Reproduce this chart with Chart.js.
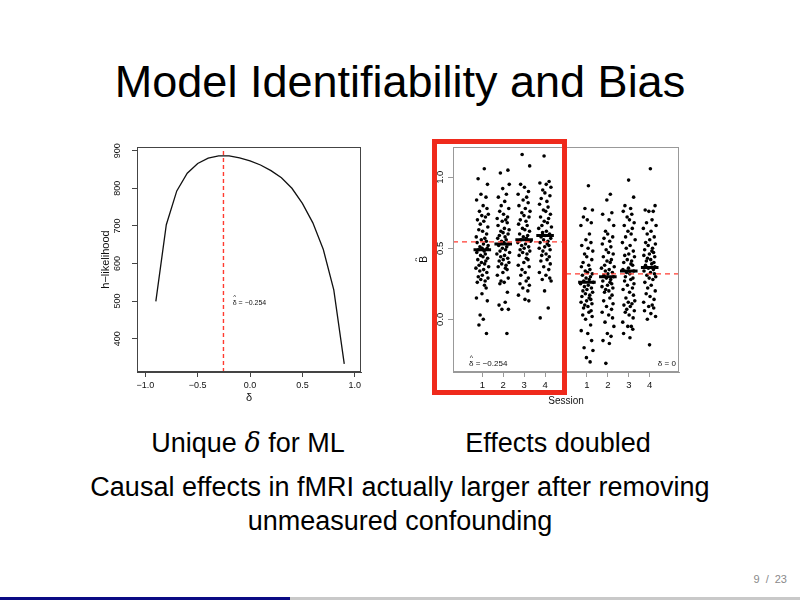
<!DOCTYPE html>
<html lang="en">
<head>
<meta charset="UTF-8">
<title>Model Identifiability and Bias</title>
<script src="https://cdn.jsdelivr.net/npm/chart.js@4.4.1/dist/chart.umd.min.js"></script>
<style>
  body { margin: 0; background: #fff; font-family: "Liberation Sans", Arial, sans-serif; }
  #slide { position: relative; width: 800px; height: 600px; overflow: hidden; background: #fff; }
  .txt { position: absolute; color: #000; white-space: nowrap; }
  #title { left: 0; width: 800px; top: 58px; font-size: 45px; line-height: 48px; text-align: center; }
  .cap { font-size: 27px; line-height: 30px; text-align: center; width: 260px; top: 428px; }
  .cap i { font-family: "DejaVu Serif", "Liberation Serif", serif; font-size: 27px; }
  #concl { left: 0; width: 800px; top: 470px; font-size: 27px; line-height: 34px; text-align: center; }
  #pageno { right: 13px; top: 573px; font-size: 11px; color: #8a8a8a; word-spacing: 3px; }
  #barNavy { position: absolute; left: 0; top: 597px; width: 290px; height: 3px; background: #0b0b84; }
  #barGrey { position: absolute; left: 290px; top: 597px; width: 510px; height: 3px; background: #c9c9c9; }
  canvas { position: absolute; }
  #hlikChart { left: 100px; top: 143px; }
  #sessChart { left: 415px; top: 143px; }
  #redFrame { position: absolute; left: 432px; top: 139px; width: 135px; height: 256px;
              box-sizing: border-box; border: 5px solid #ef2a1c; }
</style>
</head>
<body>
<div id="slide">
  <div id="title" class="txt">Model Identifiability and Bias</div>

  <canvas id="hlikChart" width="265" height="267"></canvas>
  <canvas id="sessChart" width="268" height="270"></canvas>
  <div id="redFrame"></div>

  <div class="txt cap" style="left:118px">Unique <i>δ</i> for ML</div>
  <div class="txt cap" style="left:428px">Effects doubled</div>
  <div id="concl" class="txt">Causal effects in fMRI actually larger after removing<br>unmeasured confounding</div>

  <div id="pageno" class="txt">9 / 23</div>
  <div id="barNavy"></div><div id="barGrey"></div>
</div>

<script>
// ---- left panel: h-likelihood profile over delta ----
const deltaGrid = [-0.9, -0.8, -0.7, -0.6, -0.5, -0.4, -0.3, -0.2, -0.1, 0.0,
                   0.1, 0.2, 0.3, 0.4, 0.5, 0.6, 0.7, 0.8, 0.9];
const hLikelihood = [499, 703, 793, 840, 866, 880, 886, 886, 881, 873,
                     862, 847, 828, 800, 760, 708, 637, 530, 333];
const deltaHat = -0.254;
const hlikXTicks = [-1, -0.5, 0, 0.5, 1];
const hlikYTicks = [400, 500, 600, 700, 800, 900];

// ---- right panel: per-subject B-hat by session, delta-hat vs delta = 0 ----
const sessions = [1, 2, 3, 4];
const bHatDeltaHat = [
  [1.06,0.99,0.95,0.88,0.86,0.84,0.80,0.78,0.76,0.74,0.73,0.72,0.70,0.69,0.67,0.65,0.63,0.62,0.60,0.58,
   0.57,0.56,0.55,0.54,0.53,0.52,0.51,0.50,0.50,0.49,0.48,0.47,0.46,0.45,0.44,0.43,0.42,0.41,0.40,0.39,
   0.38,0.37,0.36,0.35,0.34,0.33,0.31,0.30,0.29,0.28,0.27,0.26,0.24,0.22,0.18,0.15,0.13,0.03,0.00,-0.04,-0.10],
  [1.05,1.03,0.95,0.92,0.88,0.86,0.83,0.80,0.78,0.76,0.74,0.72,0.71,0.70,0.69,0.68,0.66,0.64,0.63,0.62,
   0.61,0.60,0.59,0.58,0.57,0.56,0.55,0.54,0.53,0.52,0.51,0.50,0.49,0.48,0.47,0.46,0.45,0.44,0.43,0.42,
   0.41,0.40,0.39,0.38,0.37,0.36,0.35,0.33,0.31,0.29,0.27,0.26,0.25,0.19,0.12,0.10,0.07,0.07,-0.10],
  [1.16,1.08,0.95,0.93,0.90,0.88,0.86,0.84,0.82,0.80,0.78,0.76,0.75,0.73,0.72,0.70,0.69,0.67,0.66,0.64,
   0.63,0.62,0.60,0.59,0.58,0.57,0.56,0.55,0.54,0.53,0.52,0.51,0.50,0.49,0.48,0.47,0.46,0.45,0.43,0.42,
   0.40,0.38,0.37,0.35,0.33,0.31,0.29,0.27,0.25,0.24,0.22,0.20,0.17,0.14,0.13],
  [1.15,0.97,0.96,0.95,0.93,0.91,0.89,0.87,0.85,0.83,0.81,0.79,0.77,0.76,0.74,0.72,0.71,0.69,0.68,0.66,
   0.65,0.64,0.62,0.61,0.60,0.59,0.58,0.57,0.56,0.55,0.54,0.53,0.52,0.51,0.50,0.49,0.48,0.46,0.45,0.44,
   0.42,0.41,0.39,0.37,0.35,0.33,0.31,0.29,0.28,0.27,0.20,0.08,0.01]
];
const bHatDeltaZero = [
  [0.94,0.78,0.77,0.72,0.70,0.68,0.66,0.60,0.56,0.54,0.52,0.50,0.48,0.46,0.44,0.42,0.40,0.38,0.37,0.35,
   0.34,0.33,0.32,0.31,0.30,0.29,0.28,0.27,0.26,0.25,0.24,0.23,0.22,0.21,0.20,0.19,0.18,0.17,0.16,0.15,
   0.14,0.13,0.12,0.11,0.10,0.09,0.08,0.06,0.05,0.03,0.02,0.00,-0.04,-0.08,-0.10,-0.15,-0.20,-0.22,-0.27,-0.30],
  [0.88,0.84,0.75,0.74,0.70,0.66,0.62,0.60,0.58,0.57,0.55,0.53,0.51,0.49,0.47,0.46,0.44,0.42,0.41,0.40,
   0.38,0.37,0.36,0.35,0.34,0.33,0.32,0.31,0.30,0.29,0.28,0.27,0.26,0.25,0.24,0.23,0.22,0.21,0.20,0.19,
   0.17,0.15,0.13,0.11,0.09,0.07,0.05,0.03,0.01,-0.02,-0.05,-0.10,-0.12,-0.15,-0.17,-0.31],
  [0.98,0.86,0.80,0.78,0.76,0.74,0.72,0.70,0.68,0.66,0.64,0.62,0.60,0.58,0.56,0.54,0.52,0.50,0.48,0.46,
   0.45,0.44,0.42,0.41,0.40,0.39,0.38,0.36,0.35,0.34,0.33,0.32,0.30,0.29,0.28,0.27,0.25,0.24,0.22,0.21,
   0.19,0.17,0.15,0.13,0.12,0.11,0.10,0.09,0.07,0.06,0.05,0.03,0.01,-0.02,-0.05,-0.05,-0.07,-0.10,-0.13],
  [1.06,0.80,0.77,0.76,0.76,0.70,0.68,0.66,0.64,0.62,0.60,0.58,0.56,0.54,0.53,0.52,0.50,0.49,0.48,0.47,
   0.46,0.45,0.44,0.43,0.42,0.41,0.40,0.39,0.38,0.37,0.36,0.35,0.34,0.33,0.32,0.31,0.30,0.29,0.28,0.26,
   0.24,0.22,0.20,0.18,0.16,0.14,0.12,0.10,0.09,0.08,0.06,0.04,0.02,0.00,-0.18]
];
const meanDeltaHat = [0.49, 0.53, 0.56, 0.59];
const meanDeltaZero = [0.26, 0.30, 0.34, 0.365];
const pooledDeltaHat = 0.545;
const pooledDeltaZero = 0.32;
const sessYTicks = [0, 0.5, 1.0];

// horizontal jitter (in session units) like R's jitter() in the stripchart
const jitter = [0.12,-0.25,0.31,-0.08,0.22,-0.34,0.05,0.28,-0.17,0.36,
                -0.03,0.19,-0.29,0.09,-0.12,0.33,-0.21,0.02,0.26,-0.36,
                0.15,-0.06,0.24,-0.31,0.07,0.35,-0.14,-0.01,0.29,-0.23,
                0.11,-0.33,0.18,-0.10,0.04,0.32,-0.27,0.21,-0.05,0.14,
                -0.19,0.38,-0.38,0.08,-0.15,0.27,0.00,-0.24,0.34,-0.09,
                0.17,-0.30,0.13,0.23,-0.02,-0.35,0.30,-0.13,0.06,-0.20,0.25];
const JITTER_SCALE = 0.8;

const FONT = '"Liberation Sans", Arial, sans-serif';
const RED = '#ff3b30';

// R-style frame: full box, rotated y tick labels, text annotations
function rFrame(o) {
  return {
    id: 'rFrame_' + o.name,
    afterDraw(chart) {
      const ctx = chart.ctx, a = chart.chartArea, ys = chart.scales.y, xs = chart.scales.x;
      ctx.save();
      ctx.strokeStyle = o.boxColor; ctx.lineWidth = 1;
      ctx.strokeRect(a.left + 0.5, a.top + 0.5, a.right - a.left - 1, a.bottom - a.top - 1);
      ctx.fillStyle = '#111';
      ctx.textAlign = 'center'; ctx.textBaseline = 'middle';
      ctx.font = o.tickSize + 'px ' + FONT;
      ys.ticks.forEach(t => {
        ctx.save();
        ctx.translate(a.left - o.tickLabelGap, ys.getPixelForValue(t.value));
        ctx.rotate(-Math.PI / 2);
        ctx.fillText(o.yFormat(t.value), 0, 0);
        ctx.restore();
      });
      // y title (x is relative to the canvas)
      ctx.save();
      ctx.translate(o.yTitleX, (a.top + a.bottom) / 2);
      ctx.rotate(-Math.PI / 2);
      ctx.font = o.yTitleSize + 'px ' + FONT;
      ctx.fillText(o.yTitle, 0, 0);
      if (o.yTitleHat) {
        ctx.font = (o.yTitleSize - 2) + 'px ' + FONT;
        ctx.fillText('^', 0, -o.yTitleSize * 0.75);
      }
      ctx.restore();
      // annotations
      o.notes.forEach(n => {
        const px = xs.getPixelForValue(n.x), py = ys.getPixelForValue(n.y);
        ctx.font = n.size + 'px ' + FONT;
        ctx.textAlign = n.align; ctx.textBaseline = 'middle';
        ctx.fillText(n.text, px, py);
        if (n.hat) {
          const dw = ctx.measureText('δ').width;
          const x0 = n.align === 'left' ? px : px - ctx.measureText(n.text).width;
          ctx.textAlign = 'center';
          ctx.font = (n.size - 1) + 'px ' + FONT;
          ctx.fillText('^', x0 + dw / 2, py - n.size * 0.75);
        }
      });
      ctx.restore();
    }
  };
}

function axisCommon(color) {
  return {
    grid: { display: true, drawOnChartArea: false, drawTicks: true, tickLength: 5, color: color, lineWidth: 1 },
    border: { display: true, color: color, width: 1 }
  };
}

function minusFmt(v, d) {
  return (v < 0 ? '\u2212' : '') + Math.abs(v).toFixed(d);
}

// ---------------- left chart ----------------
new Chart(document.getElementById('hlikChart'), {
  type: 'scatter',
  data: {
    datasets: [
      {
        data: [{ x: deltaHat, y: 311.4 }, { x: deltaHat, y: 909.8 }],
        showLine: true, borderColor: RED, borderWidth: 1.4, borderDash: [4, 3], pointRadius: 0
      },
      {
        data: deltaGrid.map((d, i) => ({ x: d, y: hLikelihood[i] })),
        showLine: true, borderColor: '#111', borderWidth: 1.3, pointRadius: 0, tension: 0
      }
    ]
  },
  options: {
    responsive: false, animation: false, events: [],
    layout: { padding: { top: 4, right: 4, left: 0, bottom: 0 } },
    plugins: { legend: { display: false }, tooltip: { enabled: false } },
    scales: {
      x: Object.assign(axisCommon('#444'), {
        type: 'linear', min: -1.08, max: 1.06,
        afterBuildTicks: s => { s.ticks = hlikXTicks.map(v => ({ value: v })); },
        afterFit: s => { s.height = 38; },
        ticks: { color: '#111', font: { family: FONT, size: 9 }, padding: 3, maxRotation: 0,
                 callback: v => minusFmt(v, 1) },
        title: { display: true, text: 'δ', color: '#111', font: { family: FONT, size: 11 },
                 padding: { top: 0, bottom: 5 } }
      }),
      y: Object.assign(axisCommon('#444'), {
        type: 'linear', min: 311.4, max: 909.8,
        afterBuildTicks: s => { s.ticks = hlikYTicks.map(v => ({ value: v })); },
        afterFit: s => { s.width = 37; },
        ticks: { display: false }
      })
    }
  },
  plugins: [rFrame({
    name: 'hlik', boxColor: '#444', tickSize: 9, tickLabelGap: 19,
    yFormat: v => String(v), yTitle: 'h\u2212likelihood', yTitleSize: 11, yTitleX: 6,
    yTitleHat: false,
    notes: [{ x: -0.165, y: 495, text: 'δ = \u22120.254', size: 7, align: 'left', hat: true }]
  })]
});

// ---------------- right chart ----------------
function sessionX(panel, s) { return s + 5 * panel; }

const pointSets = [bHatDeltaHat, bHatDeltaZero].map((panelData, p) => {
  const pts = [];
  panelData.forEach((vals, si) => {
    vals.forEach((v, i) => {
      const j = jitter[(i + si * 7 + p * 13) % jitter.length] * JITTER_SCALE;
      pts.push({ x: sessionX(p, sessions[si]) + j, y: v });
    });
  });
  return pts;
});

const meanBars = [];
[meanDeltaHat, meanDeltaZero].forEach((means, p) => {
  means.forEach((m, si) => {
    const cx = sessionX(p, sessions[si]);
    meanBars.push({ x: cx - 0.42, y: m }, { x: cx + 0.42, y: m }, { x: cx + 0.5, y: null });
  });
});

new Chart(document.getElementById('sessChart'), {
  type: 'scatter',
  data: {
    datasets: [
      {
        data: [{ x: -0.4, y: pooledDeltaHat }, { x: 5, y: pooledDeltaHat }],
        showLine: true, borderColor: RED, borderWidth: 1.4, borderDash: [5, 4], pointRadius: 0
      },
      {
        data: [{ x: 5, y: pooledDeltaZero }, { x: 10.4, y: pooledDeltaZero }],
        showLine: true, borderColor: RED, borderWidth: 1.4, borderDash: [5, 4], pointRadius: 0
      },
      {
        data: meanBars, showLine: true, spanGaps: false,
        borderColor: '#000', borderWidth: 3, pointRadius: 0
      },
      {
        data: pointSets[0].concat(pointSets[1]),
        pointRadius: 1.8, pointBackgroundColor: '#000', pointBorderWidth: 0
      }
    ]
  },
  options: {
    responsive: false, animation: false, events: [],
    layout: { padding: { top: 4, right: 4, left: 0, bottom: 0 } },
    plugins: { legend: { display: false }, tooltip: { enabled: false } },
    scales: {
      x: Object.assign(axisCommon('#999'), {
        type: 'linear', min: -0.4, max: 10.4,
        afterBuildTicks: s => {
          s.ticks = [0, 1].flatMap(p => sessions.map(v => ({ value: sessionX(p, v) })));
        },
        afterFit: s => { s.height = 41; },
        ticks: { color: '#111', font: { family: FONT, size: 9.5 }, padding: 3, maxRotation: 0,
                 callback: v => String(v > 5 ? v - 5 : v) },
        title: { display: true, text: 'Session', color: '#111', font: { family: FONT, size: 10 },
                 padding: { top: 0, bottom: 6 } }
      }),
      y: Object.assign(axisCommon('#999'), {
        type: 'linear', min: -0.371, max: 1.213,
        afterBuildTicks: s => { s.ticks = sessYTicks.map(v => ({ value: v })); },
        afterFit: s => { s.width = 38; },
        ticks: { display: false }
      })
    }
  },
  plugins: [rFrame({
    name: 'sess', boxColor: '#999', tickSize: 9.5, tickLabelGap: 13,
    yFormat: v => v.toFixed(1), yTitle: 'B', yTitleSize: 10, yTitleX: 9, yTitleHat: true,
    notes: [
      { x: 0.37, y: -0.315, text: 'δ = \u22120.254', size: 8, align: 'left', hat: true },
      { x: 10.25, y: -0.315, text: 'δ = 0', size: 8, align: 'right', hat: false }
    ]
  })]
});
</script>
</body>
</html>
